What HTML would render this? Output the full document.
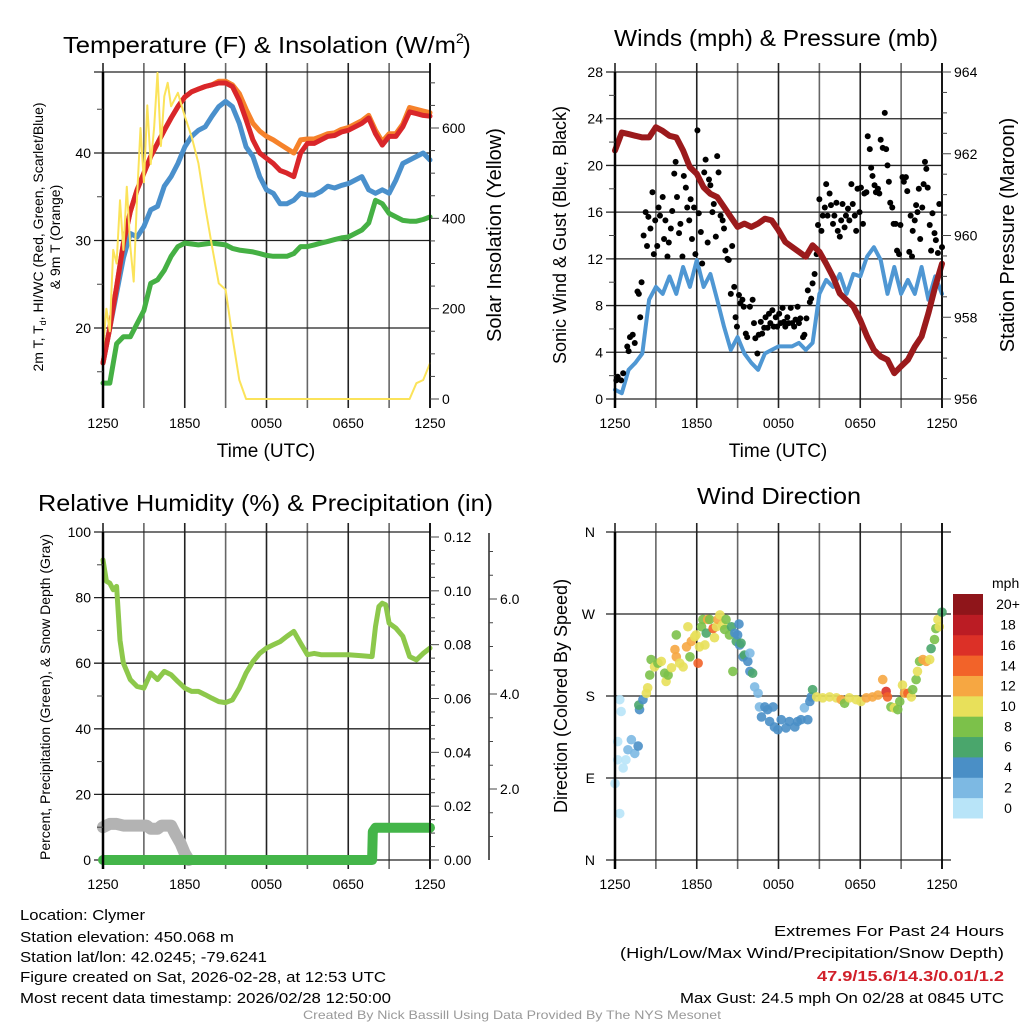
<!DOCTYPE html>
<html><head><meta charset="utf-8"><style>
html,body{margin:0;padding:0;background:#fff;}
svg{display:block;font-family:"Liberation Sans",Arial,sans-serif;}
</style></head><body>
<svg id="chart" width="1024" height="1024" viewBox="0 0 1024 1024" xmlns="http://www.w3.org/2000/svg">
<rect x="0" y="0" width="1024" height="1024" fill="#fff"/>
<g id="layer-grid"></g>
<g id="layer-data"></g>
<g id="layer-axes"></g>
<g id="layer-text">
<text x="63" y="53" font-size="23" textLength="393" lengthAdjust="spacingAndGlyphs">Temperature (F) &amp; Insolation (W/m</text>
<text x="456" y="43" font-size="14">2</text>
<text x="463" y="53" font-size="23">)</text>
<text x="614" y="46" font-size="23" textLength="324" lengthAdjust="spacingAndGlyphs">Winds (mph) &amp; Pressure (mb)</text>
<text x="38" y="511" font-size="23" textLength="455" lengthAdjust="spacingAndGlyphs">Relative Humidity (%) &amp; Precipitation (in)</text>
<text x="697" y="504" font-size="23" textLength="164" lengthAdjust="spacingAndGlyphs">Wind Direction</text>
<text x="266" y="457" font-size="19" text-anchor="middle">Time (UTC)</text>
<text x="778" y="457" font-size="19" text-anchor="middle">Time (UTC)</text>
<text transform="translate(43,237) rotate(-90)" font-size="14" text-anchor="middle">2m T, T<tspan font-size="9" dy="3">d</tspan><tspan dy="-3">, HI/WC (Red, Green, Scarlet/Blue)</tspan></text>
<text transform="translate(60,237) rotate(-90)" font-size="14" text-anchor="middle">&amp; 9m T (Orange)</text>
<text transform="translate(501,235) rotate(-90)" font-size="20" text-anchor="middle">Solar Insolation (Yellow)</text>
<text transform="translate(566,235) rotate(-90)" font-size="18" text-anchor="middle">Sonic Wind &amp; Gust (Blue, Black)</text>
<text transform="translate(1014,235) rotate(-90)" font-size="20" text-anchor="middle">Station Pressure (Maroon)</text>
<text transform="translate(50,697) rotate(-90)" font-size="14" text-anchor="middle">Percent, Precipitation (Green), &amp; Snow Depth (Gray)</text>
<text transform="translate(567,696) rotate(-90)" font-size="18" text-anchor="middle">Direction (Colored By Speed)</text>
<text x="992" y="588" font-size="14">mph</text>
<text x="20" y="920" font-size="15" textLength="125" lengthAdjust="spacingAndGlyphs">Location: Clymer</text>
<text x="20" y="942" font-size="15" textLength="214" lengthAdjust="spacingAndGlyphs">Station elevation: 450.068 m</text>
<text x="20" y="962" font-size="15" textLength="247" lengthAdjust="spacingAndGlyphs">Station lat/lon: 42.0245; -79.6241</text>
<text x="20" y="982" font-size="15" textLength="366" lengthAdjust="spacingAndGlyphs">Figure created on Sat, 2026-02-28, at 12:53 UTC</text>
<text x="20" y="1003" font-size="15" textLength="371" lengthAdjust="spacingAndGlyphs">Most recent data timestamp: 2026/02/28 12:50:00</text>
<text x="1004" y="936" font-size="15" text-anchor="end" textLength="230" lengthAdjust="spacingAndGlyphs">Extremes For Past 24 Hours</text>
<text x="1004" y="958" font-size="15" text-anchor="end" textLength="384" lengthAdjust="spacingAndGlyphs">(High/Low/Max Wind/Precipitation/Snow Depth)</text>
<text x="1004" y="981" font-size="15" font-weight="bold" fill="#d1202a" text-anchor="end" textLength="187" lengthAdjust="spacingAndGlyphs">47.9/15.6/14.3/0.01/1.2</text>
<text x="1004" y="1003" font-size="15" text-anchor="end" textLength="324" lengthAdjust="spacingAndGlyphs">Max Gust: 24.5 mph On 02/28 at 0845 UTC</text>
<text x="303" y="1019" font-size="12" fill="#999" textLength="418" lengthAdjust="spacingAndGlyphs">Created By Nick Bassill Using Data Provided By The NYS Mesonet</text>
</g>
</svg>
<script>
// ---------- DATA ----------
const timeTickLabels = ["1250","1850","0050","0650","1250"];
const halfHours = [0,0.5,1,1.5,2,2.5,3,3.5,4,4.5,5,5.5,6,6.5,7,7.5,8,8.5,9,9.5,10,10.5,11,11.5,12,12.5,13,13.5,14,14.5,15,15.5,16,16.5,17,17.5,18,18.5,19,19.5,20,20.5,21,21.5,22,22.5,23,23.5,24];
const tempRed = [16,20,24.7,29.7,33.3,35.8,37.7,39.6,41.1,42.6,44,45.3,46.4,47,47.3,47.6,47.8,48,48,47.6,46,43.8,41.5,40,39.4,38.8,38,37.7,37.3,40,41.1,41.1,41.5,41.9,42,42.4,42.6,43,43.4,44,42.2,40.9,41.9,41.9,43,44.7,44.5,44.3,44.2];
const tempOrange = [16,20,24.7,29.7,33.3,35.8,37.7,39.6,41.1,42.6,44,45.3,46.4,47,47.3,47.6,47.8,48.2,48.2,47.8,46.8,45,43.4,42.5,41.9,41.5,41,40.5,40,41.5,41.6,41.6,41.9,42.2,42.3,42.7,42.9,43.3,43.7,44.3,42.6,41.3,42.2,42.2,43.3,45.2,45,44.8,44.6];
const tempBlue = [16,20,24,28,30.8,30.4,31.6,33.5,33.9,36.2,37.3,38.8,40.7,41.9,42.6,43,44.2,45.3,45.9,45.3,43.4,40.7,39.6,37.3,35.8,35.4,34.2,34.2,34.6,35.4,35.2,35.2,35.6,36.2,36,36.3,36.5,36.9,37.3,35.8,35.4,35.8,35.4,36.9,38.8,39.2,39.6,40,39.2];
const dewGreen = [13.7,13.7,18.2,19,19,20.5,22,25.1,25.5,26.6,28.2,29.3,29.7,29.6,29.5,29.6,29.7,29.6,29.5,29.1,28.9,28.8,28.7,28.5,28.3,28.2,28.2,28.2,28.5,29.3,29.3,29.5,29.7,29.9,30.1,30.3,30.4,30.8,31.2,32,34.6,34.2,33.1,32.7,32.3,32.2,32.2,32.4,32.7];
const solarHours = [0,0.25,0.5,0.75,1,1.25,1.5,1.75,2,2.25,2.5,2.75,3,3.25,3.5,3.75,4,4.25,4.5,4.75,5,5.5,6,6.5,7,7.5,8,8.5,9,9.5,10,10.5,22.5,23,23.5,24];
const solarWm2 = [109,200,150,330,300,440,330,470,338,260,449,600,480,650,520,600,722,560,670,700,648,678,626,581,522,426,338,256,242,138,42,0,0,35,42,79];
const windMph = [0.8,0.5,2.5,3.1,3.9,8.5,9.6,9,10.5,9,11.3,9.6,11.9,9.6,10.7,8.5,6.2,4.2,5.3,3.9,3.1,2.5,3.9,4.2,4.5,4.5,4.5,4.8,4.2,4.8,9,10.2,9.6,10.7,9,10.7,10.5,12.2,13,11.9,9,11.3,9,10.2,9,11.3,8.5,10.5,9];
const pressureMb = [962.08,962.52,962.48,962.44,962.40,962.40,962.65,962.56,962.44,962.40,962.08,961.67,961.51,961.18,961.02,960.94,960.70,960.45,960.21,960.29,960.21,960.29,960.41,960.37,960.13,959.84,959.72,959.60,959.48,959.76,959.60,959.31,958.99,958.58,958.42,958.26,957.93,957.53,957.20,957.04,956.96,956.63,956.80,956.96,957.28,957.53,958.10,958.75,959.31];
const gustHours = [0.1,0.2,0.45,0.6,0.9,1.0,1.1,1.3,1.45,1.65,1.75,1.85,1.95,2.1,2.25,2.35,2.45,2.6,2.75,2.85,2.95,3.1,3.2,3.3,3.5,3.6,3.7,3.85,3.95,4.1,4.2,4.35,4.45,4.55,4.7,4.8,4.95,5.05,5.2,5.3,5.45,5.55,5.65,5.8,5.9,6.05,6.15,6.3,6.4,6.55,6.65,6.8,6.9,7.0,7.15,7.25,7.4,7.5,7.6,7.75,7.9,8.0,8.1,8.25,8.35,8.5,8.6,8.75,8.85,8.95,9.1,9.2,9.35,9.45,9.6,9.7,9.9,10.1,10.2,10.3,10.45,10.55,10.7,10.8,10.95,11.05,11.2,11.3,11.4,11.55,11.65,11.8,11.9,12.05,12.15,12.3,12.4,12.5,12.65,12.75,12.9,13.0,13.15,13.25,13.4,13.5,13.6,13.8,13.9,14.05,14.15,14.3,14.4,14.5,14.65,14.8,14.9,15.0,15.15,15.25,15.4,15.5,15.6,15.75,15.85,16.0,16.1,16.25,16.35,16.5,16.6,16.7,16.85,16.95,17.1,17.2,17.35,17.45,17.6,17.7,17.8,17.95,18.05,18.2,18.3,18.45,18.55,18.7,18.8,18.9,19.05,19.15,19.3,19.4,19.5,19.65,19.8,19.9,20.0,20.1,20.2,20.35,20.45,20.6,20.7,20.85,20.95,21.1,21.2,21.35,21.45,21.6,21.7,21.8,21.85,22.0,22.1,22.2,22.3,22.4,22.55,22.65,22.75,22.85,22.95,23.1,23.2,23.3,23.45,23.55,23.7,23.8,24.0];
const gustMph = [1.6,1.9,1.6,2.2,4.5,4.1,5.3,5.5,4.8,9.2,9.0,7.0,10.0,14.0,16.0,13.1,15.6,14.6,17.7,12.4,15.3,13.1,16.4,15.7,17.3,13.7,15.3,12.2,13.4,14.6,16.1,19.3,20.3,17.3,14.2,15.0,12.2,19.1,18.1,16.4,15.3,17.1,13.7,16.4,12.4,23.0,15.9,14.3,11.6,19.4,20.5,13.4,18.8,18.3,16.0,16.7,13.9,20.8,19.4,15.7,15.3,14.6,12.7,12.0,11.9,9.0,13.1,9.6,7.0,6.2,8.9,8.2,8.5,7.9,5.6,5.3,7.9,8.5,6.5,5.2,3.9,5.5,6.6,5.6,6.1,7.0,6.1,7.3,6.5,7.6,6.2,7.0,6.2,7.3,6.5,7.8,6.6,6.2,7.0,6.5,7.8,6.5,6.2,6.8,7.9,6.5,6.9,5.3,5.5,6.9,9.3,8.3,8.6,9.9,10.7,12.4,14.9,17.1,14.4,15.7,16.4,18.4,15.7,17.6,16.6,15.0,15.7,16.8,14.4,13.9,15.3,16.7,14.7,15.7,16.3,15.3,18.4,16.7,15.7,14.4,18.0,16.0,18.1,15.0,17.6,17.7,22.5,21.4,19.8,19.1,18.3,17.7,18.0,17.6,22.2,21.5,24.5,21.4,20.0,18.6,16.8,16.4,15.0,15.0,12.7,12.4,14.9,19.0,18.6,19.0,17.8,12.6,15.7,12.2,14.4,15.3,16.6,16.0,18.0,13.7,16.4,18.4,20.3,19.7,18.1,14.9,12.7,15.9,14.2,13.6,12.5,16.7,13.0];
const rhHours = [0,0.25,0.5,0.75,1,1.25,1.5,2,2.5,3,3.5,4,4.5,5,5.5,6,6.5,7,7.5,8,8.5,9,9.5,10,10.5,11,11.5,12,12.5,13,13.5,14,14.5,15,15.5,16,17,18,19,19.75,20,20.25,20.5,20.75,21,21.5,22,22.5,23,23.5,24];
const rhPercent = [91.5,85,84.4,82.4,83.4,67,60,55,52.9,52.4,57,55,57.5,56.5,54.4,52.4,51.4,51.4,50.4,49.3,48.3,48,48.8,52.4,57,60.5,63,64.6,65.6,66.6,68.2,69.7,66.1,62.6,63,62.6,62.6,62.6,62.3,62,71.2,77.3,78.3,77.8,72.2,70.7,68.2,62,61,63,64.6];
const precipHours = [0,19.75,19.8,20,24];
const precipInches = [0,0,0.0105,0.012,0.012];
const snowHours = [0,0.5,1,1.5,2,3,3.2,3.5,4,4.3,5,5.3,5.7,6,6.3];
const snowPlotted = [10,11,11,10.5,10.5,10.5,10.5,9.5,9.5,10.5,10.5,8,5,2,0];
const dirHours = [0.0,0.2,0.35,0.35,0.45,0.2,0.6,0.8,0.95,1.2,1.45,1.7,1.8,1.75,2.05,2.3,2.4,2.55,2.65,2.9,3.15,3.4,3.65,3.75,3.9,4.15,4.4,4.5,4.5,4.75,5.0,5.25,5.35,5.5,5.6,5.85,5.95,6.1,6.2,6.35,6.45,6.6,6.7,6.8,6.95,7.2,7.3,7.45,7.55,7.7,7.9,8.05,8.15,8.4,8.55,8.65,8.8,8.9,9.1,9.0,9.15,9.25,9.4,9.5,9.75,9.9,9.9,10.1,10.25,10.5,10.6,10.75,11.0,11.2,11.35,11.6,11.7,11.95,12.2,12.55,12.8,13.2,13.4,13.65,13.9,14.15,14.3,14.4,14.5,14.8,15.25,15.75,16.25,16.6,16.85,17.2,17.7,18.05,18.45,18.9,19.3,19.65,19.9,20.0,20.25,20.5,20.75,20.9,21.1,21.25,21.5,21.75,21.85,22.1,22.2,22.35,22.6,22.85,23.1,23.2,23.45,23.55,23.7,23.8,24.0];
const dirDegrees = [84,130,51,176,163,110,101,110,121,132,117,125,165,170,176,183,189,203,220,212,216,218,205,196,203,211,231,247,223,216,212,234,256,223,240,245,247,216,234,256,264,236,249,264,264,254,244,256,264,269,258,253,264,247,256,207,249,240,259,247,236,238,223,225,218,227,207,205,190,183,168,157,168,165,152,168,146,143,154,145,152,146,152,154,167,154,174,179,187,179,178,179,178,176,172,178,176,174,178,179,181,198,185,179,168,167,165,174,192,183,183,179,187,198,207,218,220,218,220,232,242,254,264,256,272];
const dirSpeed = [1,1,0,0,0,0,0,0,2,2,2,4,4,6,4,10,10,8,8,10,8,10,8,10,8,10,12,8,12,10,10,12,10,8,12,10,10,14,10,8,8,10,6,12,8,14,10,10,12,10,10,8,8,8,6,8,4,6,4,4,4,6,4,6,4,2,4,6,2,2,2,4,4,4,4,4,4,4,4,4,4,4,4,4,2,4,4,4,6,10,10,10,10,12,8,10,10,10,12,12,12,12,16,14,8,10,8,8,10,12,14,10,8,8,10,8,12,12,10,6,8,8,10,10,6];
const speedBins = ["0","2","4","6","8","10","12","14","16","18","20+"];
const speedColors = ["#b8e4f8","#7db9e3","#4a8fc6","#4aa66c","#7cc14a","#e8e05a","#f6a742","#f26329","#dc3027","#bb1c24","#8f151a"];

// ---------- HELPERS ----------
const NS="http://www.w3.org/2000/svg";
const gGrid=document.getElementById('layer-grid');
const gData=document.getElementById('layer-data');
const gAxes=document.getElementById('layer-axes');
function mk(tag,attrs,parent){const e=document.createElementNS(NS,tag);for(const k in attrs)e.setAttribute(k,attrs[k]);parent.appendChild(e);return e;}
function lin(d0,d1,r0,r1){return v=>r0+(v-d0)/(d1-d0)*(r1-r0);}
function poly(xs,ys,fx,fy,stroke,w,name){
  let pts=xs.map((t,i)=>fx(t).toFixed(1)+","+fy(ys[i]).toFixed(1)).join(" ");
  const p=mk('polyline',{points:pts,fill:'none',stroke:stroke,'stroke-width':w,'stroke-linejoin':'round','stroke-linecap':'round'},gData);
  
  
  return p;
}
function label(x,y,txt,anchor,parent,name){
  const t=mk('text',{x:x,y:y,'font-size':14,'text-anchor':anchor},parent);
  t.textContent=txt;
  
  
  return t;
}
function frame(x0,x1,yT,yB,key){
  const fx=lin(0,24,x0,x1);
  for(let h=0;h<=24;h+=3){
    const x=fx(h);
    const ln=mk('line',{x1:x,x2:x,y1:yT-9,y2:yB+9,stroke:(h%6===0?'#222':'#666'),'stroke-width':1.6},gGrid);
    
    
  }
  timeTickLabels.forEach((s,i)=>{label(fx(i*6),yB+29,s,'middle',gAxes,key+'-x-tick-label');});
  const la=mk('line',{x1:x0,x2:x0,y1:yT,y2:yB+9,stroke:'#000','stroke-width':2.5},gAxes);
  
  
  const ra=mk('line',{x1:x1,x2:x1,y1:yT-9,y2:yB+9,stroke:'#000','stroke-width':1.6},gAxes);
  
  
  return fx;
}
function hgrid(x0,x1,y,key){
  const l=mk('line',{x1:x0-9,x2:x1,y1:y,y2:y,stroke:'#222','stroke-width':1.3},gGrid);
  
  
}
function tick(x,y,len,key){
  const l=mk('line',{x1:x,x2:x+len,y1:y,y2:y,stroke:'#444','stroke-width':1},gAxes);
  
  
}

// ---------- PANEL 1: temperature ----------
{
  const x0=103,x1=430,yT=72,yB=399;
  const fx=frame(x0,x1,yT,yB,'temp');
  const fy=lin(40,30,153,240.5);
  const fs=lin(0,600,399,128);
  hgrid(x0,x1,yT,'temp');
  [20,30,40].forEach(v=>{hgrid(x0,x1,fy(v),'temp');label(x0-12,fy(v)+5,String(v),'end',gAxes,'temp-y-tick-label');});
  [15,25,35,45].forEach(v=>tick(x0-6,fy(v),6,'temp-minor'));
  for(let v=0;v<=700;v+=50){tick(x1,fs(v),v%200===0?9:5,'solar');}
  [0,200,400,600].forEach(v=>label(x1+12,fs(v)+5,String(v),'start',gAxes,'solar-y-tick-label'));
  poly(halfHours,dewGreen,fx,fy,'#45b044',5,'dewpoint-line');
  poly(halfHours,tempBlue,fx,fy,'#4a90cc',5,'windchill-line');
  poly(halfHours,tempOrange,fx,fy,'#f6822a',5,'temp-9m-line');
  poly(halfHours,tempRed,fx,fy,'#d9262a',5,'temp-2m-line');
  poly(solarHours,solarWm2,fx,fs,'#fbe35a',2,'solar-line');
}
// ---------- PANEL 2: winds ----------
{
  const x0=615,x1=942,yT=72,yB=399;
  const fx=frame(x0,x1,yT,yB,'wind');
  const fy=lin(0,28,399,72);
  const fp=lin(956,964,399,72);
  for(let v=0;v<=28;v+=2){ if(v%4===0){hgrid(x0,x1,fy(v),'wind');label(x0-12,fy(v)+5,String(v),'end',gAxes,'wind-y-tick-label');} else tick(x0-6,fy(v),6,'wind-minor'); }
  for(let p=956;p<=964;p+=0.5){tick(x1,fp(p),p%2===0?9:5,'pressure');}
  [956,958,960,962,964].forEach(p=>label(x1+12,fp(p)+5,String(p),'start',gAxes,'pressure-y-tick-label'));
  poly(halfHours,windMph,fx,fy,'#4f97d3',4,'sonic-wind-line');
  gustHours.forEach((t,i)=>{
    const c=mk('circle',{cx:fx(t),cy:fy(gustMph[i]),r:3,fill:'#000'},gData);
    
    
  });
  poly(halfHours,pressureMb,fx,fp,'#9b1a1c',6,'pressure-line');
}
// ---------- PANEL 3: humidity ----------
{
  const x0=103,x1=430,yT=532,yB=860;
  const fx=frame(x0,x1,yT,yB,'rh');
  const fy=lin(0,100,860,532);
  const fpr=lin(0,0.12,860,537);
  const fsn=lin(2,6,789,599);
  for(let v=0;v<=100;v+=10){ if(v%20===0){hgrid(x0,x1,fy(v),'rh');label(x0-12,fy(v)+5,String(v),'end',gAxes,'rh-y-tick-label');} else tick(x0-6,fy(v),6,'rh-minor'); }
  for(let i=0;i<=24;i++){const v=i*0.005;tick(x1,fpr(v),i%4===0?9:5,'precip');}
  ["0.00","0.02","0.04","0.06","0.08","0.10","0.12"].forEach((s,i)=>label(x1+14,fpr(i*0.02)+5,s,'start',gAxes,'precip-y-tick-label'));
  const sa=mk('line',{x1:489,x2:489,y1:533,y2:860,stroke:'#333','stroke-width':1.6},gAxes);
  
  
  for(let s=0.5;s<=7;s+=0.5){const y=fsn(s); if(y>=533&&y<=860) tick(489,y,s%2===0?8:4,'snow');}
  ["2.0","4.0","6.0"].forEach((s,i)=>label(500,fsn((i+1)*2)+5,s,'start',gAxes,'snow-y-tick-label'));
  poly(snowHours,snowPlotted,fx,fy,'#b3b3b3',12,'snow-depth-line');
  poly(precipHours,precipInches,fx,fpr,'#44b549',10,'precip-line');
  poly(rhHours,rhPercent,fx,fy,'#8dc84b',5,'rh-line');
}
// ---------- PANEL 4: wind direction ----------
{
  const x0=615,x1=942,yT=532,yB=860;
  const fx=frame(x0,x1,yT,yB,'dir');
  const fy=lin(0,360,860,532);
  const dirLabels=["N","E","S","W","N"];
  dirLabels.forEach((s,i)=>{hgrid(x0,x1+9,fy(i*90),'dir');label(x0-20,fy(i*90)+5,s,'end',gAxes,'dir-y-tick-label');});
  dirHours.forEach((t,i)=>{
    const bin=Math.min(10,Math.floor(dirSpeed[i]/2));
    const c=mk('circle',{cx:fx(t),cy:fy(dirDegrees[i]),r:4.8,fill:speedColors[bin],'fill-opacity':0.9},gData);
    
    
  });
  const by0=594,bh=(818-594)/11;
  speedBins.forEach((s,i)=>{
    const y=by0+(10-i)*bh;
    const r=mk('rect',{x:953,y:y,width:30,height:bh+0.5,fill:speedColors[i]},gAxes);
    
    
    label(1008,y+bh/2+5,s,'middle',gAxes,'colorbar-label');
  });
}
</script>
</body></html>
